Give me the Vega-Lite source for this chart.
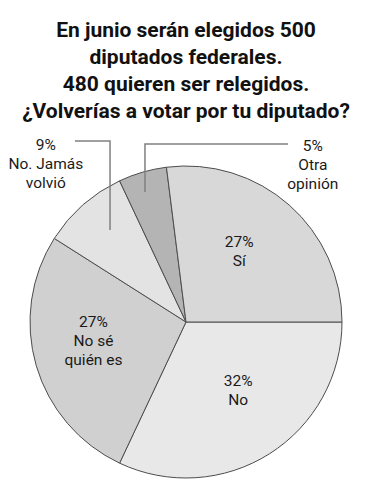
{
  "$schema": "https://vega.github.io/schema/vega-lite/v6.json",
  "width": 312,
  "height": 312,
  "autosize": "none",
  "padding": {"left": 30, "top": 166, "right": 39, "bottom": 22},
  "background": "white",
  "config": {"view": {"stroke": null}},
  "title": {
    "text": ["En junio serán elegidos 500", "diputados federales.", "480 quieren ser relegidos.", "¿Volverías a votar por tu diputado?"],
    "font": "Roboto",
    "fontSize": 21,
    "fontWeight": "bold",
    "lineHeight": 27,
    "anchor": "middle",
    "frame": "group",
    "offset": -23,
    "dy": 6,
    "color": "#111111"
  },
  "datasets": {
    "slices": [
      {"cat": "No", "label": "32%\nNo", "value": 32, "order": 1},
      {"cat": "No sé quién es", "label": "27%\nNo sé\nquién es", "value": 27, "order": 2},
      {"cat": "No. Jamás volvió", "label": "9%\nNo. Jamás\nvolvió", "value": 9, "order": 3},
      {"cat": "Otra opinión", "label": "5%\nOtra\nopinión", "value": 5, "order": 4},
      {"cat": "Sí", "label": "27%\nSí", "value": 27, "order": 5}
    ],
    "leaders": [
      {"line": "Jamás", "seq": 1, "x": -0.487, "y": 0.59},
      {"line": "Jamás", "seq": 2, "x": -0.487, "y": 1.16},
      {"line": "Jamás", "seq": 3, "x": -0.712, "y": 1.16},
      {"line": "Otra", "seq": 1, "x": -0.263, "y": 0.833},
      {"line": "Otra", "seq": 2, "x": -0.263, "y": 1.141},
      {"line": "Otra", "seq": 3, "x": 0.654, "y": 1.141}
    ]
  },
  "layer": [
    {
      "data": {"name": "slices"},
      "mark": {"type": "arc", "outerRadius": 156, "stroke": "#4d4d4d", "strokeWidth": 1},
      "encoding": {
        "theta": {"field": "value", "type": "quantitative", "stack": true, "scale": {"range": [1.5708, 7.854]}},
        "order": {"field": "order", "type": "quantitative"},
        "color": {
          "field": "cat", "type": "nominal", "legend": null,
          "scale": {
            "domain": ["No", "No sé quién es", "No. Jamás volvió", "Otra opinión", "Sí"],
            "range": ["#e8e8e8", "#d0d0d0", "#e3e3e3", "#b4b4b4", "#d8d8d8"]
          }
        }
      }
    },
    {
      "data": {"name": "leaders"},
      "mark": {"type": "line", "stroke": "#808080", "strokeWidth": 1.5},
      "encoding": {
        "x": {"field": "x", "type": "quantitative", "axis": null, "scale": {"domain": [-1, 1], "nice": false, "zero": false}},
        "y": {"field": "y", "type": "quantitative", "axis": null, "scale": {"domain": [-1, 1], "nice": false, "zero": false}},
        "detail": {"field": "line", "type": "nominal"},
        "order": {"field": "seq", "type": "quantitative"}
      }
    },
    {
      "data": {"name": "slices"},
      "mark": {"type": "text", "radius": 88, "dx": -5, "dy": -14, "font": "Roboto", "fontSize": 15.5, "lineHeight": 19, "lineBreak": "\n", "baseline": "middle", "align": "center", "color": "#1a1a1a"},
      "encoding": {
        "theta": {"field": "value", "type": "quantitative", "stack": true},
        "order": {"field": "order", "type": "quantitative"},
        "text": {"condition": {"test": "datum.cat === 'Sí'", "field": "label"}, "value": ""}
      }
    },
    {
      "data": {"name": "slices"},
      "mark": {"type": "text", "radius": 88, "dx": 5, "dy": -15, "font": "Roboto", "fontSize": 15.5, "lineHeight": 19, "lineBreak": "\n", "baseline": "middle", "align": "center", "color": "#1a1a1a"},
      "encoding": {
        "theta": {"field": "value", "type": "quantitative", "stack": true},
        "order": {"field": "order", "type": "quantitative"},
        "text": {"condition": {"test": "datum.cat === 'No'", "field": "label"}, "value": ""}
      }
    },
    {
      "data": {"name": "slices"},
      "mark": {"type": "text", "radius": 88, "dx": -8, "dy": -25, "font": "Roboto", "fontSize": 15.5, "lineHeight": 19, "lineBreak": "\n", "baseline": "middle", "align": "center", "color": "#1a1a1a"},
      "encoding": {
        "theta": {"field": "value", "type": "quantitative", "stack": true},
        "order": {"field": "order", "type": "quantitative"},
        "text": {"condition": {"test": "datum.cat === 'No sé quién es'", "field": "label"}, "value": ""}
      }
    },
    {
      "data": {"name": "slices"},
      "mark": {"type": "text", "radius": 212, "dy": -18, "font": "Roboto", "fontSize": 15.5, "lineHeight": 19, "lineBreak": "\n", "baseline": "middle", "align": "center", "color": "#1a1a1a"},
      "encoding": {
        "theta": {"field": "value", "type": "quantitative", "stack": true},
        "order": {"field": "order", "type": "quantitative"},
        "text": {"condition": {"test": "datum.cat === 'No. Jamás volvió'", "field": "label"}, "value": ""}
      }
    },
    {
      "data": {"name": "slices"},
      "mark": {"type": "text", "radius": 180, "dx": 177, "dy": -3, "font": "Roboto", "fontSize": 15.5, "lineHeight": 19, "lineBreak": "\n", "baseline": "middle", "align": "center", "color": "#1a1a1a"},
      "encoding": {
        "theta": {"field": "value", "type": "quantitative", "stack": true},
        "order": {"field": "order", "type": "quantitative"},
        "text": {"condition": {"test": "datum.cat === 'Otra opinión'", "field": "label"}, "value": ""}
      }
    }
  ]
}
